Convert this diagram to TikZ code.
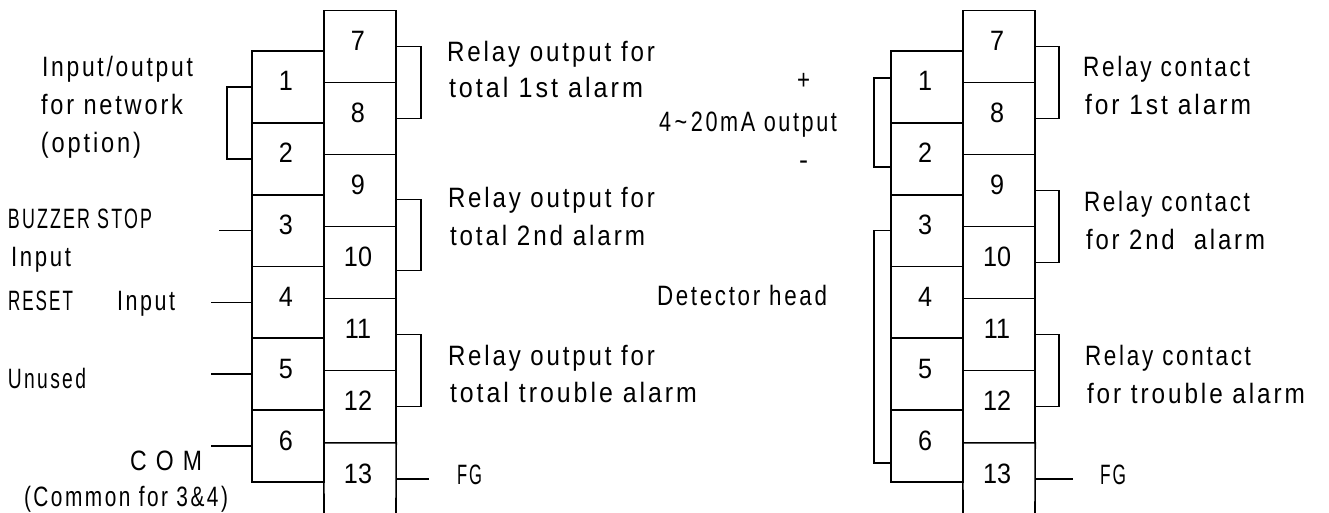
\documentclass[tikz,border=0pt]{standalone}
\usepackage{fontspec}
\usepackage{graphicx}
\setmainfont[LetterSpace=12]{Liberation Sans}
\newfontfamily\digitfont{Liberation Sans}
\newsavebox{\labbox}
\newcommand{\dg}[1]{\raisebox{-4pt}[0pt][0pt]{\digitfont\fontsize{28}{28}\selectfont\scalebox{0.9}[1]{#1}}\kern4pt}
\newcommand{\fitw}[2]{\sbox{\labbox}{#2}\pgfmathsetmacro{\labsx}{#1/(\the\wd\labbox)}\scalebox{\labsx}[1]{\usebox{\labbox}}}
\newcommand{\lab}[5]{% name, x, baseline y, width, text
  \node[lab] (#1) at (#2,-#3) {\fitw{#4}{#5}};}
\tikzset{
  x=1pt,y=1pt,
  wire/.style={line width=1.6pt,line join=miter},
  term/.style={draw,line width=1.6pt,minimum width=72pt,minimum height=72pt,inner sep=0pt},
  openterm/.style={minimum width=72pt,minimum height=72pt,inner sep=0pt},
  lab/.style={anchor=base west,inner sep=0pt,outer sep=0pt,font=\fontsize{28}{28}\selectfont}
}
\newcommand{\TermBlock}[2]{%
  \begin{scope}[xshift=#2pt]
  \foreach \n [count=\i from 0] in {1,...,6}{
    \node[term] (#1\n) at (288,{-87-71.8*\i}) {\dg{\n}};
  }
  \foreach \n [count=\i from 0] in {7,...,12}{
    \node[term] (#1\n) at (360,{-46.4-72*\i}) {\dg{\n}};
  }
  \node[openterm] (#113) at (360,-479) {\dg{13}};
  \coordinate (#1foot a) at (324,-513);
  \coordinate (#1foot b) at (396,-513);
  \end{scope}
  \draw[wire] (#1foot a) -- (#113.north west) -- (#113.north east) -- (#1foot b);
}
\begin{document}
\begin{tikzpicture}
\useasboundingbox (0,0) rectangle (1329,-513);
\TermBlock{L}{0}
\TermBlock{R}{639}
% left block wires
\draw[wire] (L1.west) -- ++(-24,0) |- (L2.west);
\draw[wire] (L3.west) -- ++(-32,0) coordinate (s3);
\draw[wire] (L4.west) -- ++(-40,0) coordinate (s4);
\draw[wire] (L5.west) -- ++(-40,0) coordinate (s5);
\draw[wire] (L6.west) -- ++(-40,0) coordinate (s6);
\draw[wire] (L7.east) -- ++(24,0) |- (L8.east);
\draw[wire] ([yshift=-9pt]L9.east) -- ++(24,0) |- ([yshift=-8pt]L10.east);
\draw[wire] (L11.east) -- ++(24,0) |- (L12.east);
\draw[wire] (L13.east) -- ++(33,0) coordinate (fgL);
% right block wires
\draw[wire] ([yshift=9pt]R1.west) -- ++(-16,0) |- ([yshift=-8pt]R2.west);
\draw[wire] (R3.west) -- ++(-16,0) |- ([yshift=-17pt]R6.west);
\draw[wire] (R7.east) -- ++(23,0) |- (R8.east);
\draw[wire] (R9.east) -- ++(23,0) |- (R10.east);
\draw[wire] (R11.east) -- ++(23,0) |- (R12.east);
\draw[wire] (R13.east) -- ++(38,0) coordinate (fgR);
% left labels
\lab{t1}{42}{77}{151}{Input/output}
\lab{t2}{41}{115}{142}{for network}
\lab{t3}{41}{153}{100}{(option)}
\lab{t4}{8}{228}{144}{BUZZER STOP}
\lab{t5}{11}{266}{60}{Input}
\lab{t6}{8}{310}{65}{RESET}
\lab{t7}{117}{310}{58}{Input}
\lab{t8}{8}{388}{78}{Unused}
\lab{t9}{130}{470}{72}{C O M}
\lab{t10}{24}{506}{204}{(Common for 3\&4)}
% middle labels
\lab{m1}{447}{62}{208}{Relay output for}
\lab{m2}{449}{98}{194}{total 1st alarm}
\lab{m3}{448}{207}{207}{Relay output for}
\lab{m4}{450}{245}{195}{total 2nd alarm}
\lab{m5}{448}{365}{207}{Relay output for}
\lab{m6}{450}{402}{247}{total trouble alarm}
\lab{m7}{457}{484}{25}{FG}
\lab{m8}{797}{90}{13}{+}
\lab{m9}{659}{132}{178}{4\,\char`\~\,20mA output}
\lab{m10}{799}{170}{9}{-}
\lab{m11}{657}{305}{170}{Detector head}
% right labels
\lab{r1}{1083}{77}{167}{Relay contact}
\lab{r2}{1085}{115}{166}{for 1st alarm}
\lab{r3}{1084}{211}{166}{Relay contact}
\lab{r4}{1086}{249}{179}{for 2nd\ \ alarm}
\lab{r5}{1085}{365}{166}{Relay contact}
\lab{r6}{1087}{403}{218}{for trouble alarm}
\lab{r7}{1100}{484}{26}{FG}
\end{tikzpicture}
\end{document}
